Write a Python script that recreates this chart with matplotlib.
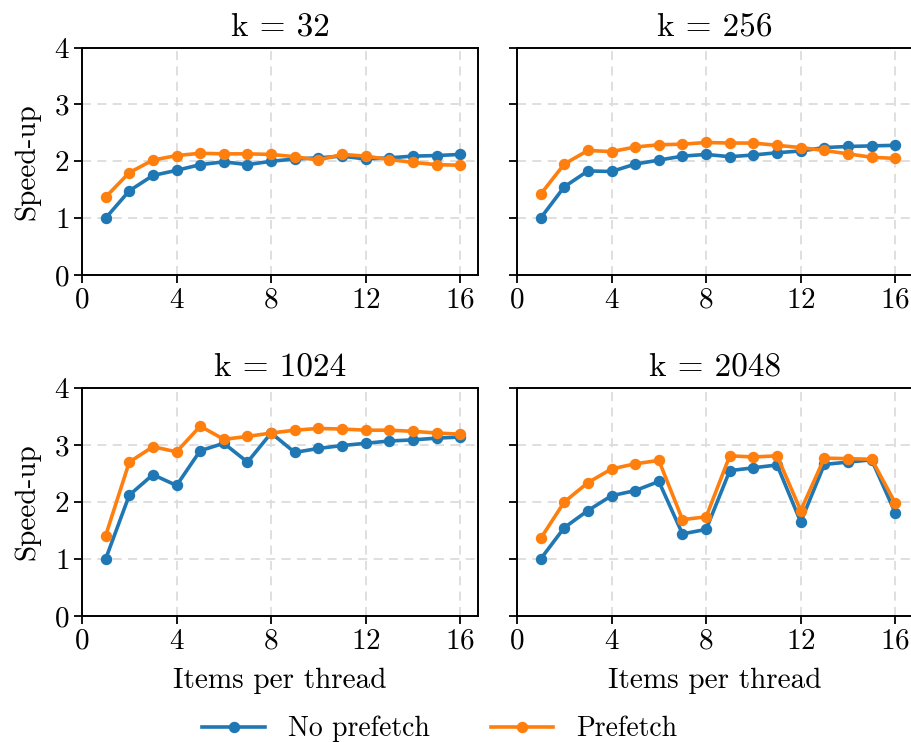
import numpy as np
import matplotlib
matplotlib.use("Agg")
import matplotlib.pyplot as plt

plt.rcParams['font.family'] = 'serif'
plt.rcParams['font.serif'] = ['cmr10', 'DejaVu Serif']
plt.rcParams['mathtext.fontset'] = 'cm'
plt.rcParams['axes.formatter.use_mathtext'] = True

items = list(range(1, 17))
titles = ["k = 32", "k = 256", "k = 1024", "k = 2048"]

no_prefetch_32 = [1.0, 1.48, 1.75, 1.84, 1.94, 1.99, 1.94, 2.0, 2.04, 2.06, 2.09, 2.04, 2.06, 2.09, 2.1, 2.12]
prefetch_32 = [1.37, 1.8, 2.02, 2.1, 2.14, 2.13, 2.13, 2.12, 2.08, 2.02, 2.12, 2.09, 2.03, 1.98, 1.94, 1.93]

no_prefetch_256 = [1.0, 1.55, 1.83, 1.82, 1.95, 2.02, 2.09, 2.12, 2.08, 2.11, 2.15, 2.18, 2.24, 2.26, 2.27, 2.28]
prefetch_256 = [1.42, 1.95, 2.19, 2.17, 2.25, 2.29, 2.3, 2.33, 2.32, 2.32, 2.28, 2.24, 2.19, 2.13, 2.07, 2.05]

no_prefetch_1024 = [1.0, 2.12, 2.48, 2.29, 2.9, 3.03, 2.7, 3.21, 2.87, 2.94, 2.99, 3.03, 3.07, 3.09, 3.12, 3.14]
prefetch_1024 = [1.41, 2.7, 2.97, 2.88, 3.33, 3.1, 3.15, 3.21, 3.26, 3.29, 3.28, 3.26, 3.26, 3.24, 3.21, 3.19]

no_prefetch_2048 = [1.0, 1.55, 1.85, 2.11, 2.2, 2.36, 1.44, 1.52, 2.55, 2.6, 2.65, 1.65, 2.66, 2.7, 2.74, 1.81]
prefetch_2048 = [1.36, 2.0, 2.34, 2.58, 2.67, 2.73, 1.69, 1.74, 2.81, 2.79, 2.81, 1.85, 2.77, 2.76, 2.75, 1.98]

no_prefetch = [no_prefetch_32, no_prefetch_256, no_prefetch_1024, no_prefetch_2048]
prefetch = [prefetch_32, prefetch_256, prefetch_1024, prefetch_2048]

W, H = 912, 742
fig = plt.figure(figsize=(W / 100, H / 100), dpi=100)

# axes boxes in pixels: left, top, right, bottom
boxes = [(82, 47.5, 478, 275), (517, 47.5, 913, 275),
         (82, 388, 478, 616), (517, 388, 913, 616)]

blue = '#1f77b4'
orange = '#ff7f0e'

for i, (l, t, r, b) in enumerate(boxes):
    ax = fig.add_axes([l / W, 1 - b / H, (r - l) / W, (b - t) / H])
    ax.plot(items, no_prefetch[i], color=blue, lw=2.6, marker='o', ms=7.2, label='No prefetch')
    ax.plot(items, prefetch[i], color=orange, lw=2.6, marker='o', ms=7.2, label='Prefetch')
    ax.set_xlim(0, 16.75)
    ax.set_ylim(0, 4)
    ax.set_xticks([0, 4, 8, 12, 16])
    ax.set_yticks([0, 1, 2, 3, 4])
    ax.grid(True, ls=(0, (5, 3.5)), color='#dcdcdc', lw=1.3)
    ax.set_axisbelow(True)
    ax.set_title(titles[i], fontsize=24, pad=9)
    ax.tick_params(labelsize=21, length=6, width=1.3, pad=3)
    for s in ax.spines.values():
        s.set_linewidth(1.4)
    if i % 2 == 0:
        ax.set_ylabel('Speed-up', fontsize=21, labelpad=10)
    else:
        ax.set_yticklabels([])
    if i >= 2:
        ax.set_xlabel('Items per thread', fontsize=21, labelpad=9)
    if i == 0:
        handles, labels = ax.get_legend_handles_labels()

fig.legend(handles, labels, loc='center', bbox_to_anchor=(440 / W, 1 - 729 / H), ncol=2,
           frameon=False, fontsize=20, handlelength=2.25, columnspacing=2.2,
           handletextpad=0.83, borderaxespad=0)

fig.savefig('out.png', dpi=100)
